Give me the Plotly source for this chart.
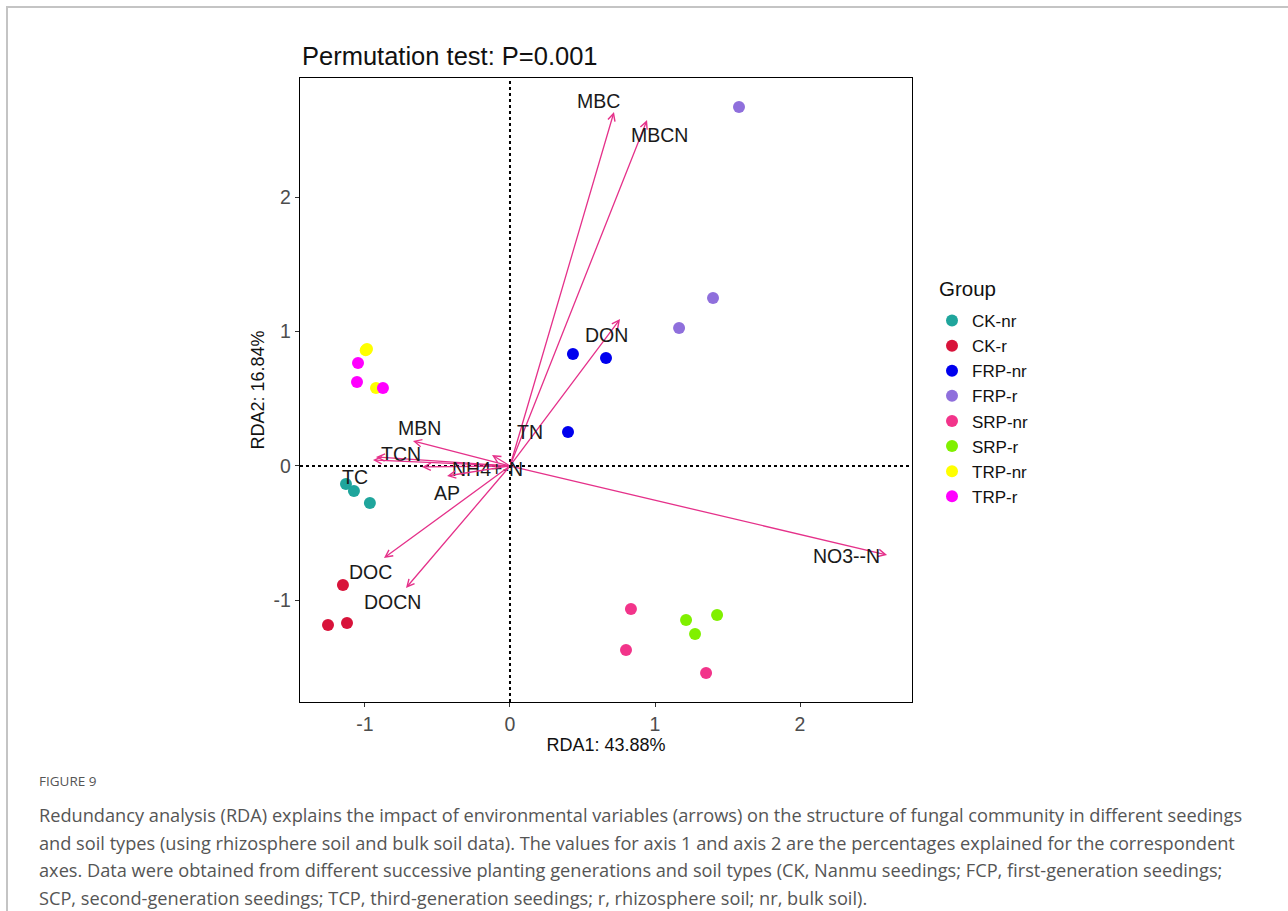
import plotly.graph_objects as go

# ---------------- data ----------------
groups = ["CK-nr", "CK-r", "FRP-nr", "FRP-r", "SRP-nr", "SRP-r", "TRP-nr", "TRP-r"]
group_colors = ["#1fa59c", "#d8133a", "#0000ee", "#8f6fdc", "#f2348a", "#80f000", "#ffff00", "#ff00ff"]

rda1 = {
    "CK-nr": [-1.131, -1.076, -0.966],
    "CK-r": [-1.152, -1.255, -1.124],
    "FRP-nr": [0.434, 0.662, 0.400],
    "FRP-r": [1.579, 1.400, 1.166],
    "SRP-nr": [0.834, 0.800, 1.352],
    "SRP-r": [1.214, 1.276, 1.428],
    "TRP-nr": [-0.986, -0.924, -0.995],
    "TRP-r": [-1.048, -1.055, -0.876],
}
rda2 = {
    "CK-nr": [-0.134, -0.186, -0.275],
    "CK-r": [-0.885, -1.182, -1.167],
    "FRP-nr": [0.833, 0.803, 0.253],
    "FRP-r": [2.669, 1.249, 1.026],
    "SRP-nr": [-1.063, -1.368, -1.539],
    "SRP-r": [-1.145, -1.249, -1.108],
    "TRP-nr": [0.870, 0.580, 0.860],
    "TRP-r": [0.766, 0.625, 0.580],
}

env_vars = ["MBC", "MBCN", "DON", "TN", "NO3--N", "MBN", "TCN", "TC", "NH4+-N", "AP", "DOC", "DOCN"]
env_x = [0.717, 0.945, 0.759, -0.124, 2.600, -0.669, -0.924, -0.945, -0.607, -0.434, -0.869, -0.717]
env_y = [2.632, 2.572, 1.093, 0.082, -0.662, 0.186, 0.067, 0.045, -0.007, -0.074, -0.684, -0.907]
label_x = [0.607, 1.028, 0.662, 0.138, 2.317, -0.621, -0.752, -1.069, -0.152, -0.434, -0.959, -0.807]
label_y = [2.714, 2.461, 0.974, 0.253, -0.669, 0.283, 0.089, -0.082, -0.022, -0.201, -0.788, -1.011]

title_text = "Permutation test: P=0.001"
x_title = "RDA1: 43.88%"
y_title = "RDA2: 16.84%"
legend_title = "Group"
x_ticks = [-1, 0, 1, 2]
y_ticks = [-1, 0, 1, 2]
caption_head = "FIGURE 9"
caption_lines = [
    "Redundancy analysis (RDA) explains the impact of environmental variables (arrows) on the structure of fungal community in different seedings",
    "and soil types (using rhizosphere soil and bulk soil data). The values for axis 1 and axis 2 are the percentages explained for the correspondent",
    "axes. Data were obtained from different successive planting generations and soil types (CK, Nanmu seedings; FCP, first-generation seedings;",
    "SCP, second-generation seedings; TCP, third-generation seedings; r, rhizosphere soil; nr, bulk soil).",
]

# ---------------- layout geometry (pixels) ----------------
W, H = 1288, 911
PL, PR, PT, PB = 300, 912, 78, 702


def px(xp):
    return (xp - PL) / (PR - PL)


def py(yp):
    return (PB - yp) / (PB - PT)


arrow_color = "#e5318a"
font = "Liberation Sans, Arial, sans-serif"

fig = go.Figure()

for g, c in zip(groups, group_colors):
    fig.add_trace(go.Scatter(
        x=rda1[g], y=rda2[g], mode="markers", name=g,
        marker=dict(color=c, size=12, line=dict(width=0)),
    ))

annotations = []
for name, x, y, lx, ly in zip(env_vars, env_x, env_y, label_x, label_y):
    annotations.append(dict(
        x=x, y=y, ax=0, ay=0, xref="x", yref="y", axref="x", ayref="y",
        text="", showarrow=True, arrowhead=5, arrowsize=1.1, arrowwidth=1.3,
        arrowcolor=arrow_color, standoff=0, startstandoff=0,
    ))
    annotations.append(dict(
        x=lx, y=ly, xref="x", yref="y", text=name, showarrow=False,
        font=dict(family=font, size=19.5, color="#1a1a1a"),
    ))

annotations.append(dict(
    x=0, y=1, xref="paper", yref="paper", xanchor="left", yanchor="bottom", yshift=6,
    text=title_text, showarrow=False, font=dict(family=font, size=25.5, color="#111111"),
))
annotations.append(dict(
    x=px(937), y=py(288), xref="paper", yref="paper", xanchor="left", yanchor="middle",
    text=legend_title, showarrow=False, font=dict(family=font, size=20.5, color="#111111"),
))

cap_font = "Open Sans, sans-serif"
annotations.append(dict(
    x=px(37), y=py(781), xref="paper", yref="paper", xanchor="left", yanchor="middle",
    text=caption_head, showarrow=False, font=dict(family=cap_font, size=13.5, color="#555555"),
))
for i, line in enumerate(caption_lines):
    annotations.append(dict(
        x=px(37), y=py(815 + i * 27.7), xref="paper", yref="paper", xanchor="left", yanchor="middle",
        text=line, showarrow=False, font=dict(family=cap_font, size=18.2, color="#555555"),
    ))

shapes = [
    dict(type="line", x0=0, x1=0, y0=0, y1=1, xref="x", yref="paper",
         line=dict(color="black", width=2, dash="dot"), layer="below"),
    dict(type="line", x0=0, x1=1, y0=0, y1=0, xref="paper", yref="y",
         line=dict(color="black", width=2, dash="dot"), layer="below"),
    dict(type="line", x0=px(7), x1=px(7), y0=py(7), y1=py(911), xref="paper", yref="paper",
         line=dict(color="#c4c4c4", width=2)),
    dict(type="line", x0=px(6), x1=px(1290), y0=py(7), y1=py(7), xref="paper", yref="paper",
         line=dict(color="#c4c4c4", width=2)),
]

fig.update_layout(
    width=W, height=H, autosize=False,
    margin=dict(l=PL, r=W - PR, t=PT, b=H - PB, pad=0),
    paper_bgcolor="white", plot_bgcolor="white",
    annotations=annotations, shapes=shapes,
    showlegend=True,
    legend=dict(
        font=dict(family=font, size=17, color="#111111"),
        x=px(932), y=py(303), xanchor="left", yanchor="top",
        bgcolor="rgba(0,0,0,0)", itemsizing="constant",
    ),
    font=dict(family=font),
)

fig.update_xaxes(
    range=[-1.448, 2.772], tickvals=x_ticks, ticktext=[str(v) for v in x_ticks],
    showgrid=False, zeroline=False, showline=True, mirror=True, linecolor="black", linewidth=1.3,
    ticks="outside", ticklen=4, tickcolor="#333333", tickwidth=1.2,
    tickfont=dict(family=font, size=19.5, color="#4d4d4d"),
    title=dict(text=x_title, font=dict(family=font, size=18, color="#111111"), standoff=4),
)
fig.update_yaxes(
    range=[-1.755, 2.885], tickvals=y_ticks, ticktext=[str(v) for v in y_ticks],
    showgrid=False, zeroline=False, showline=True, mirror=True, linecolor="black", linewidth=1.3,
    ticks="outside", ticklen=4, tickcolor="#333333", tickwidth=1.2,
    tickfont=dict(family=font, size=19.5, color="#4d4d4d"),
    title=dict(text=y_title, font=dict(family=font, size=18, color="#111111"), standoff=4),
)

fig.write_html("out.html", config={"displayModeBar": False},
               post_script="document.body.style.margin='0';")
